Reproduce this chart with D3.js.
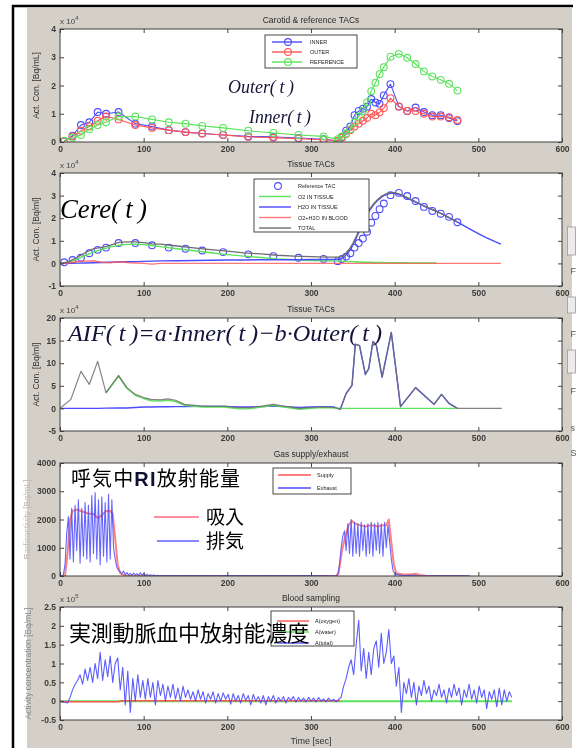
<!DOCTYPE html>
<html>
<head>
<meta charset="utf-8">
<script src="https://cdn.jsdelivr.net/npm/d3@7"></script>
<style>
  body { margin: 0; background: #fff; }
  svg { display: block; }
</style>
</head>
<body>
<svg id="fig" width="585" height="748"></svg>
<script>
// ---- panel 1: Carotid & reference TACs (x10^4 Bq/mL) ----
const tacTime = [5,15,25,35,45,55,70,90,110,130,150,170,195,225,255,285,315,332,337,342,347,352,357,362,367,372,377,382,387,395,405,415,425,435,445,455,465,475];
const innerTac = [0.02,0.22,0.6,0.7,1.06,1.0,1.06,0.65,0.55,0.42,0.35,0.3,0.25,0.2,0.18,0.14,0.1,0.03,0.18,0.4,0.55,0.95,1.1,1.18,1.25,1.52,1.4,1.35,1.65,2.05,1.26,1.1,1.22,1.06,0.95,0.95,0.85,0.74];
const outerTac = [0.02,0.2,0.4,0.55,0.75,0.9,0.8,0.6,0.5,0.42,0.35,0.3,0.25,0.18,0.15,0.12,0.08,0.05,0.15,0.28,0.42,0.55,0.65,0.75,0.85,1.0,0.95,1.05,1.2,1.55,1.25,1.1,1.1,1.0,0.9,0.9,0.88,0.78];
const refTac = [0.05,0.15,0.25,0.45,0.6,0.7,0.9,0.9,0.8,0.7,0.65,0.57,0.5,0.4,0.32,0.25,0.2,0.1,0.2,0.3,0.45,0.7,0.9,1.1,1.4,1.8,2.1,2.4,2.65,3.02,3.12,2.98,2.76,2.5,2.32,2.2,2.06,1.82];
const tacNames = ['INNER', 'OUTER', 'REFERENCE'];

// ---- panel 2: Tissue TACs (x10^4 Bq/ml) ----
const tisTime = [0,10,20,30,40,50,60,70,80,90,100,110,120,140,160,180,200,220,240,260,280,300,320,335,340,345,350,355,360,365,370,375,380,385,390,395,400,405,410,420,430,440,450,460,470,475,480,490,500,510,520,527];
const o2Tissue = [0,0.05,0.18,0.35,0.5,0.62,0.72,0.8,0.84,0.85,0.83,0.79,0.74,0.65,0.56,0.47,0.39,0.32,0.26,0.2,0.16,0.13,0.11,0.1,0.09,0.08,0.08,0.07,0.06,0.05,0.05,0.04,0.04,0.04,0.03,0.03,0.03,0.03,0.03,0.02,0.02,0.02,0.02,null,null,null,null,null,null,null,null,null];
const h2oTissue = [0,0,0.01,0.02,0.03,0.04,0.05,0.06,0.07,0.08,0.09,0.1,0.11,0.12,0.13,0.14,0.15,0.15,0.16,0.16,0.16,0.17,0.17,0.18,0.3,0.5,0.8,1.2,1.6,2.0,2.35,2.6,2.8,2.95,3.05,3.1,3.1,3.05,2.97,2.8,2.62,2.45,2.3,2.12,1.93,1.83,1.73,1.52,1.32,1.13,0.96,0.85];
const bloodTissue = [0,0.02,0.07,0.1,0.12,0.05,0.03,0.07,0.04,0.02,0,-0.03,0,0,0,0,0,0,0,0,0,0,0,0,0,0,0,0,0,0,0,0,0,0,0,0,0,0,0,0,0,0,0,0,0,0,0,0,0,0,0,0];
const totalTissue = [0,0.07,0.26,0.47,0.65,0.71,0.8,0.93,0.95,0.95,0.92,0.86,0.85,0.77,0.69,0.61,0.54,0.47,0.42,0.36,0.32,0.3,0.28,0.28,0.39,0.58,0.88,1.27,1.66,2.05,2.4,2.64,2.84,2.99,3.08,3.13,3.13,3.08,3.0,2.82,2.64,2.47,2.32,2.12,1.93,1.83,null,null,null,null,null,null];
const tisNames = ['Reference TAC', 'O2 IN TISSUE', 'H2O IN TISSUE', 'O2+H2O IN BLOOD', 'TOTAL'];

// ---- panel 3: Tissue TACs / AIF (x10^4 Bq/ml) ----
const aifTime = [0,13,25,35,45,55,70,80,90,100,109,120,129,138,149,170,196,214,225,241,255,268,286,300,315,328,335,342,349,353,358,365,369,374,378,385,396,407,425,447,456,465,475,528];
const aifTotal = [0,2.0,8.2,5.3,10.4,3.5,7.3,4.6,3.1,2.4,2.0,1.9,2.1,1.8,0.9,0.5,0.5,0.15,0.15,0.5,0.9,0.5,0,0.2,0.35,0.2,-0.2,3.3,5.1,14.2,13.9,7.5,8.8,14.8,14,6.9,16.8,0.4,4.6,0.9,3.1,1.1,0,0];
const aifO2 = [null,null,null,null,null,3.4,7.1,4.4,2.9,2.2,1.7,1.6,1.8,1.5,0.7,0.3,0.3,-0.1,-0.1,0.3,0.7,0.3,-0.2,0,0.2,0.1,0,0,0,0,0,0,0,0,0,0,0,0,0,0,0,0,0,null];
const aifH2O = [0,0,0,0,0,0.05,0.1,0.1,0.2,0.3,0.3,0.35,0.35,0.4,0.4,0.45,0.45,0.3,0.3,0.4,0.5,0.4,0.2,0.3,0.4,0.3,-0.2,3.3,5.1,14.2,13.9,7.5,8.8,14.8,14,6.9,16.8,0.4,4.6,0.9,3.1,1.1,0,null];

// ---- panel 4: Gas supply/exhaust ----
const supplyTime = [0,6,9,12,15,20,25,30,35,40,45,50,55,60,63,66,69,72,76,80,100,150,200,250,300,330,333,337,341,345,349,353,358,365,372,380,386,390,393,396,399,402,410,420,425,430,440,460,490];
const supplyValue = [0,0,800,2000,2300,2350,2300,2250,2200,2200,2050,2150,2300,2300,2200,1300,400,100,30,0,0,0,0,0,0,0,100,900,1400,1800,1950,1850,1800,1750,1800,1750,1800,1800,2000,1200,400,100,50,50,80,40,0,0,0];
const exhaustA = [0,0,50,400,1500,2100,600,2400,500,2500,900,2700,450,2400,700,2600,600,2500,500,2850,800,2950,600,2700,400,2800,700,2600,500,2900,600,2700,1000,600,300,200,150,80,180,40,120,30,90,20,100,40,80,20,110,30,80,20,60,10,50,10,40,0,30,0,20]; // 0-120 s, every 2 s
const exhaustB = [15,10,20,10,15,5,10,20,10,15,10,5,15,10,20,10,15,10,5,10]; // 130-320 s, every 10 s
const exhaustC = [0,50,400,1000,1400,1600,900,1850,800,2000,700,1900,800,1850,700,1900,900,1800,700,1850,800,1900,700,1850,900,1900,800,1850,700,1900,1000,1800,1200,600,200,80,50,60,20,40,10,30,10,30,20,40,20,30,10,20,0]; // 330-430 s, every 2 s
const exhaustD = [10,5,10,5,5,0]; // 440-490 s, every 10 s
const gasNames = ['Supply', 'Exhaust'];

// ---- panel 5: Blood sampling (x10^5 Bq/mL), every 3 s from 0 s ----
const bloodTotal = [0.0,-0.02,-0.03,-0.05,0.1,0.3,0.45,0.55,
  0.7,0.45,0.85,0.55,0.9,0.5,1.0,0.6,1.3,0.55,1.1,0.65,1.2,0.5,1.0,1.15,
  0.3,0.9,-0.1,0.8,-0.3,0.6,0.0,0.7,0.1,0.55,
  0.05,0.6,0.1,0.5,-0.1,0.55,0.15,0.45,0.0,0.4,0.1,0.45,0.05,0.35,0.0,0.4,0.1,
  0.3,0.05,0.25,0.0,0.3,0.05,0.25,-0.05,0.2,0.05,0.25,-0.05,0.2,0.0,0.22,0.05,0.18,-0.08,0.2,0.0,
  0.15,-0.05,0.2,0.02,0.15,-0.1,0.18,0.0,0.12,-0.05,0.15,-0.1,0.12,0.0,0.15,-0.05,0.1,0.0,0.12,-0.05,
  0.1,0.02,0.12,-0.03,0.1,0.0,0.08,-0.02,0.1,0.0,0.08,-0.02,0.1,0.0,0.06,-0.02,0.08,0.0,0.05,-0.02,
  0.05,0.1,0.4,0.6,0.9,
  1.1,0.7,1.5,2.15,0.8,1.4,0.6,1.3,0.7,1.4,1.6,0.9,1.8,1.0,1.3,1.9,1.0,1.2,
  0.4,0.9,-0.3,0.5,
  0.2,0.6,0.1,0.5,-0.1,0.4,0.15,0.55,0.2,0.4,0.0,0.3,0.15,0.45,0.1,0.3,-0.05,0.35,0.1,0.45,0.15,0.35,
  -0.1,0.3,0.1,0.45,0.05,0.3,-0.05,0.4,0.1,0.3,-0.2,0.25,0.05,0.3,-0.15,0.35,-0.1,0.3,0.0,0.25,0.1];
const waterTime = [0, 540];
const waterValue = [0, 0];
const oxygenTime = [0, 10, 70, 72, 335];
const oxygenValue = [0, -0.015, -0.015, 0.01, 0.01];
const bloodNames = ['A(oxygen)', 'A(water)', 'A(total)'];

const xTicks = [0, 100, 200, 300, 400, 500, 600];

// ---- layout ----
const axLeft = 60, axRight = 562, axH = 113;
const tops = [29, 173, 318, 463, 607];
const BLUE = '#4b4bff', RED = '#ff5656', GREEN = '#5ae35a', GRAY = '#6d6d6d';
const FONT = '"Liberation Sans", Arial, sans-serif';

const svg = d3.select('#fig');
const defs = svg.append('defs');
defs.append('filter').attr('id', 'soft')
  .attr('x', -0.05).attr('y', -0.05).attr('width', 1.1).attr('height', 1.1)
  .append('feGaussianBlur').attr('stdDeviation', 0.45);

svg.append('rect').attr('width', 585).attr('height', 748).attr('fill', '#fff');
svg.append('rect').attr('x', 27).attr('y', 8).attr('width', 545).attr('height', 740).attr('fill', '#d4d0c8');

const fig = svg.append('g').attr('filter', 'url(#soft)');
const x = d3.scaleLinear().domain([0, 600]).range([axLeft, axRight]);

function panel(i, domain, yTicks, title, ylab, ylabX, ylabColor, expo) {
  const top = tops[i], bottom = top + axH;
  const y = d3.scaleLinear().domain(domain).range([bottom, top]);
  const g = fig.append('g');
  g.append('rect').attr('x', axLeft).attr('y', top)
    .attr('width', axRight - axLeft).attr('height', axH).attr('fill', '#fff');
  defs.append('clipPath').attr('id', 'clip' + i).append('rect')
    .attr('x', axLeft).attr('y', top).attr('width', axRight - axLeft).attr('height', axH);
  const plot = g.append('g').attr('clip-path', `url(#clip${i})`);
  const ax = g.append('g');

  ax.append('g').attr('transform', `translate(0,${bottom})`)
    .call(d3.axisBottom(x).tickValues(xTicks).tickSize(-4).tickPadding(4));
  ax.append('g').attr('transform', `translate(0,${top})`)
    .call(d3.axisTop(x).tickValues(xTicks).tickSize(-4).tickFormat(''));
  ax.append('g').attr('transform', `translate(${axLeft},0)`)
    .call(d3.axisLeft(y).tickValues(yTicks).tickSize(-4).tickPadding(4).tickFormat(d => String(d)));
  ax.append('g').attr('transform', `translate(${axRight},0)`)
    .call(d3.axisRight(y).tickValues(yTicks).tickSize(-4).tickFormat(''));
  ax.selectAll('.domain').remove();
  ax.selectAll('.tick line').attr('stroke', '#444');
  ax.selectAll('.tick text').attr('font-family', FONT).attr('font-size', 8.5)
    .attr('font-weight', 'bold').attr('fill', '#3a3a3a');

  ax.append('rect').attr('x', axLeft).attr('y', top)
    .attr('width', axRight - axLeft).attr('height', axH)
    .attr('fill', 'none').attr('stroke', '#3c3c3c').attr('stroke-width', 1);

  g.append('text').attr('x', (axLeft + axRight) / 2).attr('y', top - 6)
    .attr('text-anchor', 'middle').attr('font-family', FONT).attr('font-size', 8.5)
    .attr('fill', '#2a2a2a').text(title);
  g.append('text').attr('transform', `translate(${ylabX},${top + axH / 2}) rotate(-90)`)
    .attr('text-anchor', 'middle').attr('font-family', FONT).attr('font-size', 8.5)
    .attr('fill', ylabColor).text(ylab);
  if (expo) {
    const t = g.append('text').attr('x', axLeft).attr('y', top - 5)
      .attr('font-family', FONT).attr('font-size', 8).attr('fill', '#444');
    t.append('tspan').text('x 10');
    t.append('tspan').attr('dy', -4).attr('font-size', 6).text(expo);
  }
  return { plot, y, g };
}

function drawLine(p, pts, color, width, opacity) {
  const line = d3.line().defined(d => d[1] !== null).x(d => x(d[0])).y(d => p.y(d[1]));
  p.plot.append('path').datum(pts).attr('d', line).attr('fill', 'none')
    .attr('stroke', color).attr('stroke-width', width || 1)
    .attr('stroke-opacity', opacity || 1).attr('stroke-linejoin', 'round');
}
function drawMarkers(p, pts, color) {
  p.plot.append('g').selectAll('circle').data(pts.filter(d => d[1] !== null)).join('circle')
    .attr('cx', d => x(d[0])).attr('cy', d => p.y(d[1])).attr('r', 3.4)
    .attr('fill', 'none').attr('stroke', color).attr('stroke-width', 1.1);
}
function zip(t, v) { return t.map((tt, k) => [tt, v[k]]); }

function legend(g, box, rows) {
  g.append('rect').attr('x', box[0]).attr('y', box[1]).attr('width', box[2]).attr('height', box[3])
    .attr('fill', '#fff').attr('stroke', '#333').attr('stroke-width', 0.9);
  rows.forEach(r => {
    if (r.line) g.append('line').attr('x1', r.x0).attr('x2', r.x1).attr('y1', r.y).attr('y2', r.y)
      .attr('stroke', r.color).attr('stroke-width', 1.4);
    if (r.marker) g.append('circle').attr('cx', r.mx).attr('cy', r.y).attr('r', 3.4)
      .attr('fill', 'none').attr('stroke', r.color).attr('stroke-width', 1.1);
    g.append('text').attr('x', r.tx).attr('y', r.y + 2).attr('font-family', FONT)
      .attr('font-size', 5.5).attr('fill', '#222').text(r.label);
  });
}

// ---- panel 1 ----
const p1 = panel(0, [0, 4], [0, 1, 2, 3, 4], 'Carotid & reference TACs', 'Act. Con. [Bq/mL]', 39, '#333', '4');
[[innerTac, BLUE], [outerTac, RED], [refTac, GREEN]].forEach(([v, c]) => {
  const pts = zip(tacTime, v);
  drawLine(p1, pts, c, 1.1);
  drawMarkers(p1, pts, c);
});
legend(p1.g, [265, 35, 92, 33], [BLUE, RED, GREEN].map((c, k) => ({
  line: true, marker: true, x0: 272, x1: 302, mx: 288, y: 42 + k * 10, tx: 310, color: c, label: tacNames[k]
})));

// ---- panel 2 ----
const p2 = panel(1, [-1, 4], [-1, 0, 1, 2, 3, 4], 'Tissue TACs', 'Act. Con. [Bq/ml]', 39, '#333', '4');
drawMarkers(p2, zip(tacTime, refTac), BLUE);
drawLine(p2, zip(tisTime, o2Tissue), GREEN, 1.4);
drawLine(p2, zip(tisTime, h2oTissue), BLUE, 1.4);
drawLine(p2, zip(tisTime, bloodTissue), RED, 1.4, 0.8);
drawLine(p2, zip(tisTime, totalTissue), GRAY, 1.3);
legend(p2.g, [254, 179, 115, 53], [BLUE, GREEN, BLUE, '#ff7a7a', GRAY].map((c, k) => ({
  line: k > 0, marker: k === 0, x0: 259, x1: 291, mx: 278, y: 186 + k * 10.5, tx: 298, color: c, label: tisNames[k]
})));

// ---- panel 3 ----
const p3 = panel(2, [-5, 20], [-5, 0, 5, 10, 15, 20], 'Tissue TACs', 'Act. Con. [Bq/ml]', 39, '#333', '4');
drawLine(p3, zip(aifTime, aifH2O), BLUE, 1.4);
drawLine(p3, zip(aifTime, aifO2), GREEN, 1.4);
drawLine(p3, zip(aifTime, aifTotal), GRAY, 1.2, 0.85);

// ---- panel 4 ----
const p4 = panel(3, [0, 4000], [0, 1000, 2000, 3000, 4000], 'Gas supply/exhaust', 'Radioactivity [Bq/mL]', 30, '#bdb9b1', null);
const exhaust = [
  ...exhaustA.map((v, k) => [k * 2, v]),
  ...exhaustB.map((v, k) => [130 + k * 10, v]),
  ...exhaustC.map((v, k) => [330 + k * 2, v]),
  ...exhaustD.map((v, k) => [440 + k * 10, v])
];
drawLine(p4, zip(supplyTime, supplyValue), RED, 2, 0.75);
drawLine(p4, exhaust, BLUE, 1.1, 0.85);
legend(p4.g, [273, 468, 78, 26], [RED, BLUE].map((c, k) => ({
  line: true, x0: 278, x1: 311, y: 475 + k * 13, tx: 317, color: c, label: gasNames[k]
})));

// ---- panel 5 ----
const p5 = panel(4, [-0.5, 2.5], [-0.5, 0, 0.5, 1, 1.5, 2, 2.5], 'Blood sampling', 'Activity concentration [Bq/mL]', 31, '#8a8a8a', '5');
drawLine(p5, zip(waterTime, waterValue), GREEN, 2);
drawLine(p5, zip(oxygenTime, oxygenValue), RED, 1.5);
drawLine(p5, bloodTotal.map((v, k) => [k * 3, v]), BLUE, 1.1, 0.9);
legend(p5.g, [271, 611, 83, 35], [RED, GREEN, BLUE].map((c, k) => ({
  line: true, x0: 277, x1: 309, y: 621 + k * 11, tx: 315, color: c, label: bloodNames[k]
})));

fig.append('text').attr('x', (axLeft + axRight) / 2).attr('y', 744).attr('text-anchor', 'middle')
  .attr('font-family', FONT).attr('font-size', 9).attr('fill', '#333').text('Time [sec]');

// ---- window frame & cut-off widgets at the right edge ----
svg.append('line').attr('x1', 13).attr('x2', 13).attr('y1', 5).attr('y2', 748).attr('stroke', '#000').attr('stroke-width', 2.5);
svg.append('line').attr('x1', 12).attr('x2', 573).attr('y1', 6).attr('y2', 6).attr('stroke', '#000').attr('stroke-width', 2.5);
[[227, 28], [297, 16], [350, 23]].forEach(([yy, hh]) => {
  svg.append('rect').attr('x', 567.5).attr('y', yy).attr('width', 8).attr('height', hh)
    .attr('fill', '#ececec').attr('stroke', '#9a9a9a').attr('stroke-width', 0.8);
});
[[271, 'F'], [334, 'F'], [391, 'F'], [428, 's'], [453, 'S']].forEach(([yy, ch]) => {
  svg.append('text').attr('x', 570.5).attr('y', yy + 3).attr('font-family', FONT).attr('font-size', 9)
    .attr('fill', '#555').text(ch);
});

// ---- annotations ----
const ann = svg.append('g');
const MATH = '"Liberation Serif", "Times New Roman", serif';
function mathText(str, x0, base, size, width, color) {
  ann.append('text').attr('x', x0).attr('y', base).attr('font-family', MATH).attr('font-style', 'italic')
    .attr('font-size', size).attr('fill', color).attr('textLength', width).attr('lengthAdjust', 'spacingAndGlyphs')
    .text(str);
}
mathText('Outer(\u2009t\u2009)', 228, 93, 18, 66, '#15153a');
mathText('Inner(\u2009t\u2009)', 249, 123, 18, 62, '#15153a');
mathText('Cere(\u2009t\u2009)', 60, 218, 27, 87, '#000');
mathText('AIF(\u2009t\u2009)=a\u00b7Inner(\u2009t\u2009)\u2212b\u00b7Outer(\u2009t\u2009)', 68, 341, 24, 314, '#12123a');

const JP = '"Noto Sans CJK JP", "Noto Sans CJK SC", sans-serif';
const t4 = ann.append('text').attr('x', 71).attr('y', 486).attr('font-family', JP).attr('font-size', 20)
  .attr('fill', '#000').attr('textLength', 169).attr('lengthAdjust', 'spacing');
t4.append('tspan').text('呼気中');
t4.append('tspan').attr('font-family', FONT).attr('font-weight', 'bold').attr('fill', '#101030').text('RI');
t4.append('tspan').text('放射能量');

ann.append('line').attr('x1', 154).attr('x2', 199).attr('y1', 517).attr('y2', 517).attr('stroke', '#ff1a40').attr('stroke-width', 1.2);
ann.append('text').attr('x', 206).attr('y', 524).attr('font-family', JP).attr('font-size', 19).attr('fill', '#000').text('吸入');
ann.append('line').attr('x1', 157).attr('x2', 199).attr('y1', 541).attr('y2', 541).attr('stroke', '#1010ff').attr('stroke-width', 1.2);
ann.append('text').attr('x', 206).attr('y', 548).attr('font-family', JP).attr('font-size', 19).attr('fill', '#000').text('排気');

ann.append('text').attr('x', 69).attr('y', 641).attr('font-family', JP).attr('font-size', 22)
  .attr('fill', '#000').attr('textLength', 240).attr('lengthAdjust', 'spacing').text('実測動脈血中放射能濃度');
</script>
</body>
</html>
